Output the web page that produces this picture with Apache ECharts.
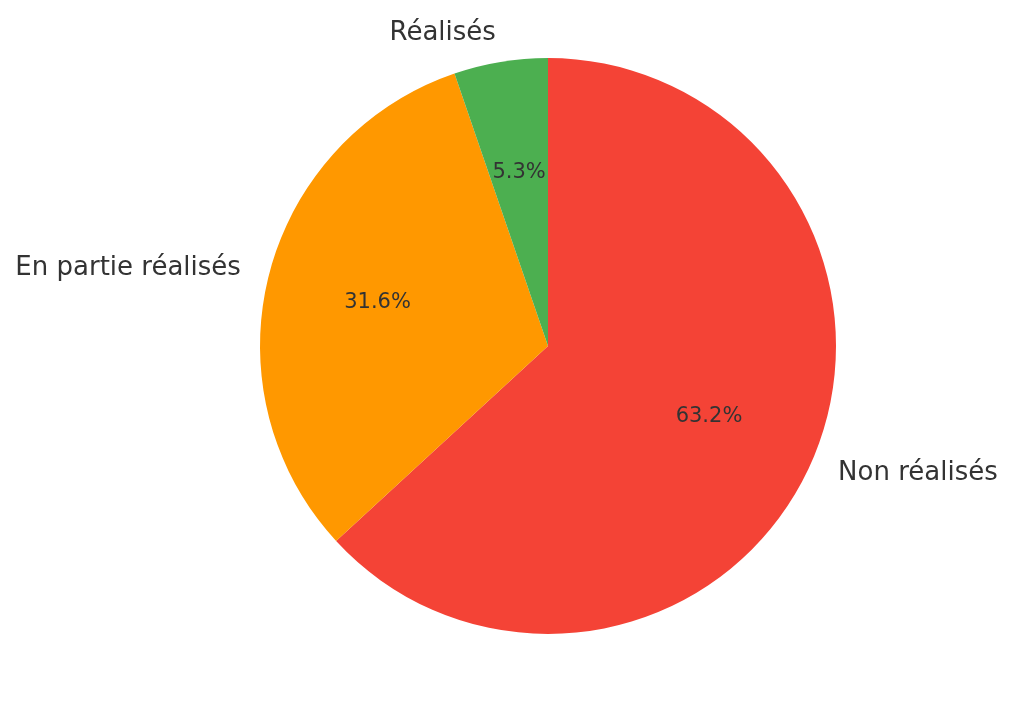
<!DOCTYPE html>
<html>
<head>
<meta charset="utf-8">
<script src="https://cdn.jsdelivr.net/npm/echarts@6/dist/echarts.min.js"></script>
<style>html,body{margin:0;padding:0;background:#fff}#chart{width:1024px;height:722px}</style>
</head>
<body>
<div id="chart"></div>
<script>
const categories = ['Non réalisés', 'En partie réalisés', 'Réalisés'];
const values = [12, 6, 1];
const colors = ['#F44336', '#FF9800', '#4CAF50'];

const R = 288;
const cx = 548, cy = 346;
const font = 'DejaVu Sans';

const chart = echarts.init(document.getElementById('chart'), null, {renderer: 'canvas'});
const slices = categories.map((c, i) => ({name: c, value: values[i], itemStyle: {color: colors[i]}}));
const ghost = categories.map((c, i) => ({name: c, value: values[i]}));

chart.setOption({
  animation: false,
  backgroundColor: '#ffffff',
  series: [
    {
      type: 'pie',
      center: [cx, cy],
      radius: [0, R],
      startAngle: 90,
      clockwise: true,
      avoidLabelOverlap: false,
      silent: true,
      data: slices,
      itemStyle: {borderWidth: 0},
      label: {
        show: true,
        position: 'outside',
        formatter: '{b}',
        color: '#333333',
        fontFamily: font,
        fontSize: 26,
        distanceToLabelLine: 0
      },
      labelLine: {show: false, length: R * 0.1, length2: 0}
    },
    {
      type: 'pie',
      center: [cx, cy],
      radius: [0, R * 1.2],
      startAngle: 90,
      clockwise: true,
      avoidLabelOverlap: false,
      silent: true,
      data: ghost,
      itemStyle: {color: 'rgba(0,0,0,0)', borderWidth: 0},
      label: {
        show: true,
        position: 'inside',
        formatter: p => p.percent.toFixed(1) + '%',
        color: '#333333',
        fontFamily: font,
        fontSize: 21
      },
      labelLine: {show: false}
    }
  ]
});
</script>
</body>
</html>
